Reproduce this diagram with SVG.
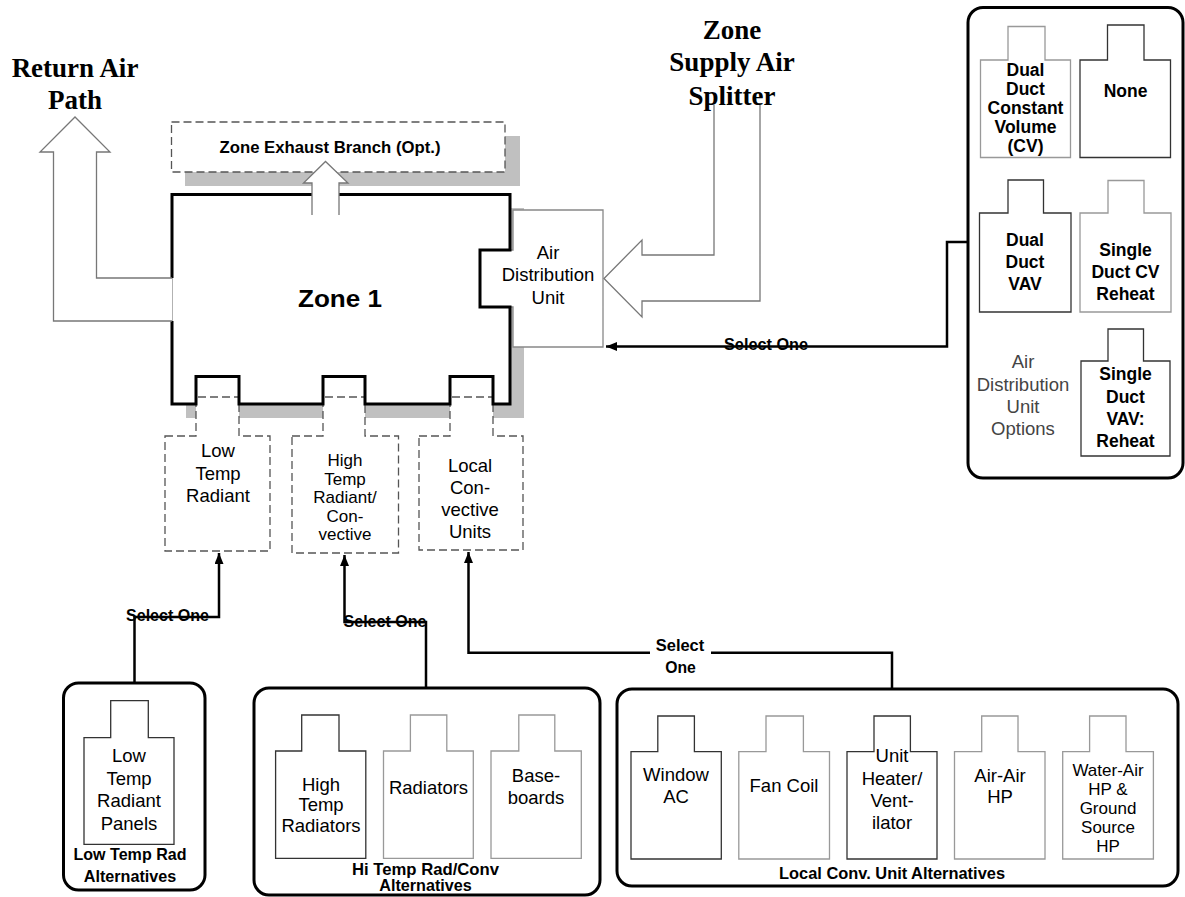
<svg xmlns="http://www.w3.org/2000/svg" width="1185" height="897" viewBox="0 0 1185 897">
<defs>
<style>
.lbl{font-family:"Liberation Sans",Arial,sans-serif;font-size:18.5px;text-anchor:middle;fill:#000}
.sm{font-size:17px}
.blbl{font-family:"Liberation Sans",Arial,sans-serif;font-size:17.5px;font-weight:bold;text-anchor:middle;fill:#000}
.opt{font-family:"Liberation Sans",Arial,sans-serif;font-size:18.5px;text-anchor:middle;fill:#444}
.cap{font-family:"Liberation Sans",Arial,sans-serif;font-size:16.5px;font-weight:bold;text-anchor:middle;fill:#000}
.title{font-family:"Liberation Serif","Times New Roman",serif;font-size:27px;font-weight:bold;text-anchor:middle;fill:#000}
.shadow{fill:#c0c0c0;stroke:none}
.dash{fill:#fff;stroke:#555;stroke-width:1.3;stroke-dasharray:8 4}
.tdark{fill:#fff;stroke:#333;stroke-width:1.3}
.tgray{fill:#fff;stroke:#999;stroke-width:1.3}
.garrow{fill:#fff;stroke:#777;stroke-width:1.3}
.group{fill:#fff;stroke:#000;stroke-width:3}
.conn{fill:none;stroke:#000;stroke-width:2.5}
.zone{fill:none;stroke:#000;stroke-width:3}
</style>
<marker id="ah" markerUnits="userSpaceOnUse" markerWidth="12" markerHeight="10" refX="11" refY="4.5" orient="auto">
<path d="M0,0 L11,4.5 L0,9 Z" fill="#000"/>
</marker>
</defs>
<rect width="1185" height="897" fill="#fff"/>

<g id="titles">
<text class="title" x="75" y="77">Return Air</text>
<text class="title" x="75" y="109">Path</text>
<text class="title" x="732" y="38.5">Zone</text>
<text class="title" x="732" y="71">Supply Air</text>
<text class="title" x="732" y="105">Splitter</text>
</g>

<g id="exhaust-branch">
<rect class="shadow" x="185" y="136" width="335" height="50"/>
<rect class="dash" x="171.5" y="122" width="333.5" height="50"/>
<text class="cap" x="330" y="152.5" font-size="17.5" textLength="221" lengthAdjust="spacingAndGlyphs">Zone Exhaust Branch (Opt.)</text>
</g>

<g id="zone1">
<rect class="shadow" x="186" y="208" width="338" height="210"/>
<rect x="172" y="194.5" width="338" height="209.5" fill="#fff" stroke="none"/>
</g>

<g id="low-temp-radiant">
<path class="dash" d="M165,436 H196 V397 H239 V436 H270 V551 H165 Z"/>
<text class="lbl" x="218" y="456.5">Low</text>
<text class="lbl" x="218" y="479.5">Temp</text>
<text class="lbl" x="218" y="501.5">Radiant</text>
</g>

<g id="high-temp-radiant">
<path class="dash" d="M292,436 H323 V397 H365 V436 H398.5 V553 H292 Z"/>
<text class="lbl sm" x="345" y="466">High</text>
<text class="lbl sm" x="345" y="484.5">Temp</text>
<text class="lbl sm" x="345" y="503">Radiant/</text>
<text class="lbl sm" x="345" y="521.5">Con-</text>
<text class="lbl sm" x="345" y="540">vective</text>
</g>

<g id="local-convective">
<path class="dash" d="M419,436 H450 V397 H493 V436 H523 V550 H419 Z"/>
<text class="lbl" x="470" y="471.5">Local</text>
<text class="lbl" x="470" y="493.5">Con-</text>
<text class="lbl" x="470" y="515.5">vective</text>
<text class="lbl" x="470" y="537.5">Units</text>
</g>

<g id="air-distribution-unit">
<path class="tgray" d="M513,210 H603 V347 H513 V307 H480 V250 H513 Z" style="stroke:#888"/>
<text class="lbl" x="548" y="258.5" font-size="19">Air</text>
<text class="lbl" x="548" y="281" font-size="19">Distribution</text>
<text class="lbl" x="548" y="303.5" font-size="19">Unit</text>
</g>

<g id="zone1-outline">
<path class="zone" d="M339,194.5 H510 V250 H480 V307 H510 V404 H493 V376.5 H450 V404 H365 V376.5 H323 V404 H239 V376.5 H196 V404 H172 V321"/>
<path class="zone" d="M172,278 V194.5 H312"/>
<path d="M172,278 V321" stroke="#888" stroke-width="1.3" fill="none"/>
<text x="340" y="306.5" font-family="Liberation Sans,Arial,sans-serif" font-size="24" font-weight="bold" text-anchor="middle" textLength="84" lengthAdjust="spacingAndGlyphs">Zone 1</text>
</g>

<g id="air-arrows">
<path class="garrow" d="M172,278 H96.5 V152 H110 L75,117 L40,152 H53.5 V321 H172"/>
<path class="garrow" d="M312,215 V183 H303.5 L325.5,161.5 L348,183 H339 V215"/>
<path class="garrow" d="M714,105 V255 H642 V240 L604,278.5 L642,317 V301 H760 V105"/>
</g>

<g id="adu-options">
<rect class="group" x="968" y="7.5" width="215" height="470.5" rx="15"/>
<path class="tgray" d="M1008,26.5 H1045 V60 H1070.5 V157.5 H980.5 V60 H1008 Z"/>
<text class="blbl" x="1025.5" y="76.3">Dual</text>
<text class="blbl" x="1025.5" y="95.3">Duct</text>
<text class="blbl" x="1025.5" y="113.6">Constant</text>
<text class="blbl" x="1025.5" y="133">Volume</text>
<text class="blbl" x="1025.5" y="152">(CV)</text>
<path class="tdark" d="M1107.5,25 H1144 V60 H1170.5 V157.5 H1080 V60 H1107.5 Z"/>
<text class="blbl" x="1125.5" y="97">None</text>
<path class="tdark" d="M1008,180 H1043.5 V213 H1071 V312 H979.5 V213 H1008 Z"/>
<text class="blbl" x="1025" y="246.3">Dual</text>
<text class="blbl" x="1025" y="268">Duct</text>
<text class="blbl" x="1025" y="290.3">VAV</text>
<path class="tgray" d="M1108,180.5 H1144 V213 H1171 V312 H1080 V213 H1108 Z"/>
<text class="blbl" x="1125.5" y="256.3">Single</text>
<text class="blbl" x="1125.5" y="278">Duct CV</text>
<text class="blbl" x="1125.5" y="300.3">Reheat</text>
<path class="tdark" d="M1108,329 H1143.5 V361 H1170 V456 H1081 V361 H1108 Z"/>
<text class="blbl" x="1125.5" y="380.3">Single</text>
<text class="blbl" x="1125.5" y="403.3">Duct</text>
<text class="blbl" x="1125.5" y="425.3">VAV:</text>
<text class="blbl" x="1125.5" y="447.3">Reheat</text>
<text class="opt" x="1023" y="368">Air</text>
<text class="opt" x="1023" y="390.5">Distribution</text>
<text class="opt" x="1023" y="412.5">Unit</text>
<text class="opt" x="1023" y="434.5">Options</text>
</g>

<g id="low-temp-alternatives">
<rect class="group" x="63.5" y="683" width="141.5" height="207" rx="15"/>
<path class="tdark" d="M110.7,700.7 H148.3 V737.7 H174 V844.3 H84 V737.7 H110.7 Z"/>
<text class="lbl" x="129" y="762">Low</text>
<text class="lbl" x="129" y="785">Temp</text>
<text class="lbl" x="129" y="807">Radiant</text>
<text class="lbl" x="129" y="830">Panels</text>
<text class="cap" x="130" y="860" textLength="113" lengthAdjust="spacingAndGlyphs">Low Temp Rad</text>
<text class="cap" x="130" y="881.7" textLength="92.5" lengthAdjust="spacingAndGlyphs">Alternatives</text>
</g>

<g id="hi-temp-alternatives">
<rect class="group" x="254" y="688" width="346" height="207" rx="15"/>
<path class="tdark" d="M301.7,715 H339 V751 H365.8 V858.3 H275.6 V751 H301.7 Z"/>
<text class="lbl" x="321" y="790.5">High</text>
<text class="lbl" x="321" y="811">Temp</text>
<text class="lbl" x="321" y="832">Radiators</text>
<path class="tgray" d="M410.4,715 H446.8 V751 H473.3 V858.3 H383.5 V751 H410.4 Z"/>
<text class="lbl" x="428.5" y="794">Radiators</text>
<path class="tgray" d="M518.8,715 H554.8 V751 H581.3 V858.3 H491 V751 H518.8 Z"/>
<text class="lbl" x="536" y="782">Base-</text>
<text class="lbl" x="536" y="804">boards</text>
<text class="cap" x="425.5" y="875" textLength="147" lengthAdjust="spacingAndGlyphs">Hi Temp Rad/Conv</text>
<text class="cap" x="425.5" y="890.7" textLength="92.5" lengthAdjust="spacingAndGlyphs">Alternatives</text>
</g>

<g id="local-conv-alternatives">
<rect class="group" x="617" y="689" width="561" height="197" rx="15"/>
<path class="tdark" d="M657.8,716 H694.4 V751.7 H721.3 V859 H631 V751.7 H657.8 Z"/>
<text class="lbl" x="676" y="780.5">Window</text>
<text class="lbl" x="676" y="803">AC</text>
<path class="tgray" d="M766,716 H803.4 V751.7 H829.5 V859 H738.8 V751.7 H766 Z"/>
<text class="lbl" x="784" y="792">Fan Coil</text>
<path class="tdark" d="M874,716 H910.4 V751.7 H937 V859 H847 V751.7 H874 Z"/>
<text class="lbl" x="892" y="761.5">Unit</text>
<text class="lbl" x="892" y="784.5">Heater/</text>
<text class="lbl" x="892" y="806.5">Vent-</text>
<text class="lbl" x="892" y="829">ilator</text>
<path class="tgray" d="M981.7,716 H1018 V751.7 H1045 V859 H954.5 V751.7 H981.7 Z"/>
<text class="lbl" x="1000" y="781.5">Air-Air</text>
<text class="lbl" x="1000" y="803">HP</text>
<path class="tgray" d="M1089.6,716 H1126 V751.7 H1153.4 V859 H1062.7 V751.7 H1089.6 Z"/>
<text class="lbl sm" x="1108" y="776">Water-Air</text>
<text class="lbl sm" x="1108" y="795">HP &amp;</text>
<text class="lbl sm" x="1108" y="814">Ground</text>
<text class="lbl sm" x="1108" y="833">Source</text>
<text class="lbl sm" x="1108" y="852">HP</text>
<text class="cap" x="892" y="879.3" textLength="226" lengthAdjust="spacingAndGlyphs">Local Conv. Unit Alternatives</text>
</g>

<g id="connectors">
<path class="conn" d="M968,242 H947 V346.5 H606" marker-end="url(#ah)"/>
<path class="conn" d="M134.5,683 V617 H219 V553" marker-end="url(#ah)"/>
<path class="conn" d="M426,688 V622 H344.5 V555" marker-end="url(#ah)"/>
<path class="conn" d="M892,689 V652.7 H711"/>
<path class="conn" d="M650,652.7 H468.5 V552" marker-end="url(#ah)"/>
<text class="cap" x="766" y="350" textLength="84" lengthAdjust="spacingAndGlyphs">Select One</text>
<text class="cap" x="167.5" y="621" textLength="83" lengthAdjust="spacingAndGlyphs">Select One</text>
<text class="cap" x="385" y="626.7" textLength="83" lengthAdjust="spacingAndGlyphs">Select One</text>
<text class="cap" x="680" y="650.7" textLength="48.5" lengthAdjust="spacingAndGlyphs">Select</text>
<text class="cap" x="680.5" y="673.3" textLength="30.6" lengthAdjust="spacingAndGlyphs">One</text>
</g>
</svg>
